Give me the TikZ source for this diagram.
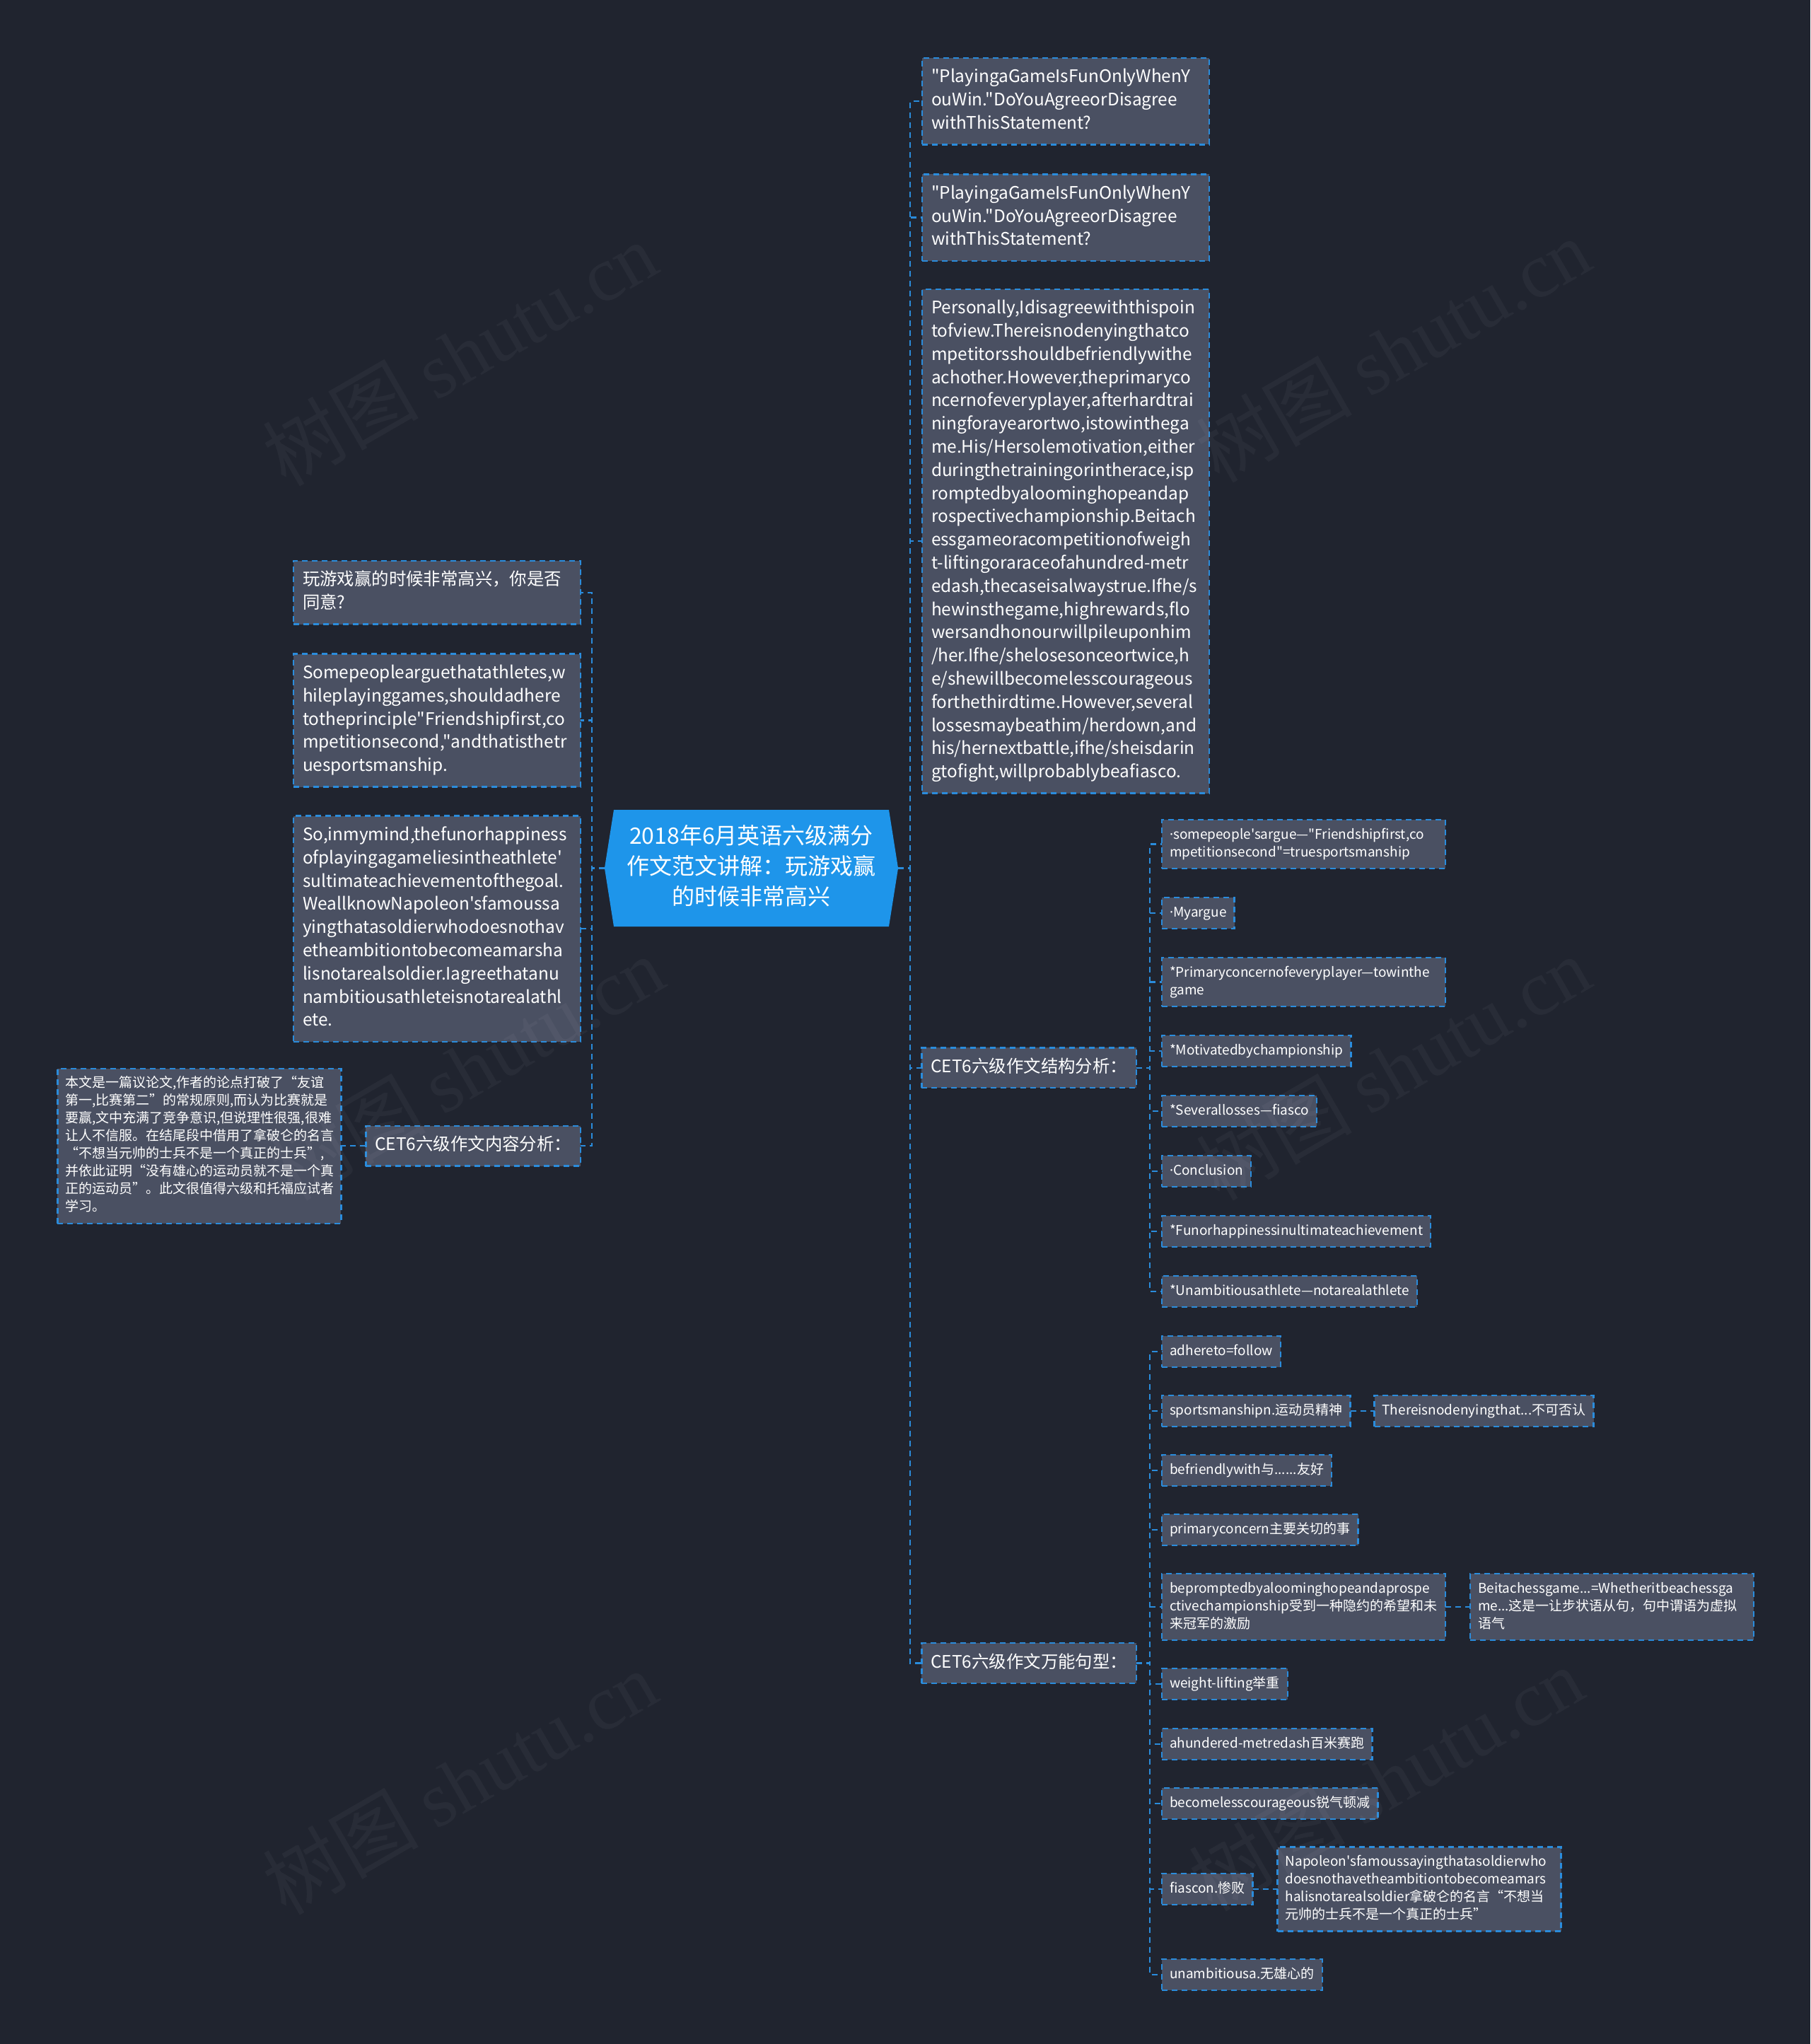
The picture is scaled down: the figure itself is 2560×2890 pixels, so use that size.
\documentclass[tikz,border=0pt]{standalone}
\usepackage{fontspec}
\setmainfont{Noto Sans CJK SC}[Ligatures=TeXOff]
\newfontfamily\wmfont{Liberation Serif}
\newfontfamily\latinfont{Noto Sans}
\newcommand\latindot{{\latinfont ·}}
\usetikzlibrary{positioning,calc,shapes.symbols}
\definecolor{bgdark}{HTML}{20242F}
\definecolor{boxfill}{HTML}{4A5062}
\definecolor{lineblue}{HTML}{2A8CDC}
\definecolor{rootblue}{HTML}{1E95EA}
\hyphenpenalty=10000
\exhyphenpenalty=10000

\begin{document}
\begin{tikzpicture}[x=0.5pt,y=-0.5pt]
  \tikzstyle{link}=[draw=lineblue,line width=1.2pt,dash pattern=on 4pt off 3pt]
  \tikzstyle{box}=[draw=lineblue,line width=1.2pt,dash pattern=on 4pt off 3pt,fill=boxfill,text=white,align=left,outer sep=0pt,execute at begin node=\strut,execute at end node=\strut]
  \tikzstyle{bigbox}=[box,font=\fontsize{12.2}{16.4}\selectfont,inner xsep=6.5pt,inner ysep=6pt]
  \tikzstyle{textbox}=[bigbox,text width=190pt]
  \tikzstyle{leaf}=[box,font=\fontsize{9.5}{12.5}\selectfont,inner xsep=5.5pt,inner ysep=4.75pt]
  \tikzstyle{wideleaf}=[leaf,text width=189.5pt]
  \tikzstyle{hexa}=[shape=signal,signal to=west and east,signal pointer angle=162,fill=rootblue,text=white,align=center,font=\fontsize{16}{21.5}\selectfont,text width=194.5pt,inner xsep=0pt,inner ysep=9pt,minimum width=207.5pt,outer sep=0pt,execute at begin node=\strut,execute at end node=\strut]
  \tikzstyle{wm}=[text=white,opacity=0.04,rotate=30,font=\fontsize{55}{60}\selectfont]
  \useasboundingbox (0,0) rectangle (2560,2890);
  \fill[bgdark] (0,0) rectangle (2560,2890);
  % centre
  \node[hexa] (title) at (1062.5,1227.5) {2018年6月英语六级满分\\作文范文讲解：玩游戏赢\\的时候非常高兴};
  % right branch
  \node[textbox,anchor=north west] (qa) at (1304,82) {"PlayingaGameIsFunOnlyWhenY\\ouWin."DoYouAgreeorDisagree\\withThisStatement?};
  \node[textbox,below=21pt of qa.south west,anchor=north west] (qb) {"PlayingaGameIsFunOnlyWhenY\\ouWin."DoYouAgreeorDisagree\\withThisStatement?};
  \node[textbox,below=20pt of qb.south west,anchor=north west] (pview) {Personally,Idisagreewiththispoin\\tofview.Thereisnodenyingthatco\\mpetitorsshouldbefriendlywithe\\achother.However,theprimaryco\\ncernofeveryplayer,afterhardtrai\\ningforayearortwo,istowinthega\\me.His/Hersolemotivation,either\\duringthetrainingorintherace,isp\\romptedbyaloominghopeandap\\rospectivechampionship.Beitach\\essgameoracompetitionofweigh\\t-liftingoraraceofahundred-metr\\edash,thecaseisalwaystrue.Ifhe/s\\hewinsthegame,highrewards,flo\\wersandhonourwillpileuponhim\\/her.Ifhe/shelosesonceortwice,h\\e/shewillbecomelesscourageous\\forthethirdtime.However,several\\lossesmaybeathim/herdown,and\\his/hernextbattle,ifhe/sheisdarin\\gtofight,willprobablybeafiasco.};
  % structure
  \node[wideleaf,anchor=north west] (s1) at (1643,1159) {\latindot somepeople'sargue—"Friendshipfirst,co\\mpetitionsecond"=truesportsmanship};
  \node[leaf,below=20.5pt of s1.south west,anchor=north west] (s2) {\latindot Myargue};
  \node[wideleaf,below=20.5pt of s2.south west,anchor=north west] (s3) {*Primaryconcernofeveryplayer—towinthe\\game};
  \node[leaf,below=20.5pt of s3.south west,anchor=north west] (s4) {*Motivatedbychampionship};
  \node[leaf,below=20.5pt of s4.south west,anchor=north west] (s5) {*Severallosses—fiasco};
  \node[leaf,below=20.5pt of s5.south west,anchor=north west] (s6) {\latindot Conclusion};
  \node[leaf,below=20.5pt of s6.south west,anchor=north west] (s7) {*Funorhappinessinultimateachievement};
  \node[leaf,below=20.5pt of s7.south west,anchor=north west] (s8) {*Unambitiousathlete—notarealathlete};
  \coordinate (smid) at ($(s1.west)!.5!(s8.west)$);
  \node[bigbox,left=18pt of smid] (struct) {CET6六级作文结构分析：};
  % phrases
  \node[leaf,below=20.5pt of s8.south west,anchor=north west] (w1) {adhereto=follow};
  \node[leaf,below=20pt of w1.south west,anchor=north west] (w2) {sportsmanshipn.运动员精神};
  \node[leaf,right=17pt of w2] (w2x) {Thereisnodenyingthat...不可否认};
  \node[leaf,below=20pt of w2.south west,anchor=north west] (w3) {befriendlywith与......友好};
  \node[leaf,below=20pt of w3.south west,anchor=north west] (w4) {primaryconcern主要关切的事};
  \node[wideleaf,below=20pt of w4.south west,anchor=north west] (w5) {bepromptedbyaloominghopeandaprospe\\ctivechampionship受到一种隐约的希望和未\\来冠军的激励};
  \node[wideleaf,right=17.5pt of w5] (w5x) {Beitachessgame...=Whetheritbeachessga\\me...这是一让步状语从句，句中谓语为虚拟\\语气};
  \node[leaf,below=20pt of w5.south west,anchor=north west] (w6) {weight-lifting举重};
  \node[leaf,below=20.5pt of w6.south west,anchor=north west] (w7) {ahundered-metredash百米赛跑};
  \node[leaf,below=20pt of w7.south west,anchor=north west] (w8) {becomelesscourageous锐气顿减};
  \node[leaf,below=38.5pt of w8.south west,anchor=north west] (w9) {fiascon.惨败};
  \node[wideleaf,right=17.5pt of w9] (w9x) {Napoleon'sfamoussayingthatasoldierwho\\doesnothavetheambitiontobecomeamars\\halisnotarealsoldier拿破仑的名言“不想当\\元帅的士兵不是一个真正的士兵”};
  \node[leaf,below=38.5pt of w9.south west,anchor=north west] (w10) {unambitiousa.无雄心的};
  \coordinate (wmid) at ($(w1.west)!.5!(w10.west)$);
  \node[bigbox,left=18pt of wmid] (phrase) {CET6六级作文万能句型：};
  % left branch
  \node[textbox,anchor=north east] (qcn) at (821,793) {玩游戏赢的时候非常高兴，你是否\\同意?};
  \node[textbox,below=21pt of qcn.south east,anchor=north east] (argue) {Somepeoplearguethatathletes,w\\hileplayinggames,shouldadhere\\totheprinciple"Friendshipfirst,co\\mpetitionsecond,"andthatisthetr\\uesportsmanship.};
  \node[textbox,below=20.5pt of argue.south east,anchor=north east] (mind) {So,inmymind,thefunorhappiness\\ofplayingagameliesintheathlete'\\sultimateachievementofthegoal.\\WeallknowNapoleon'sfamoussa\\yingthatasoldierwhodoesnothav\\etheambitiontobecomeamarsha\\lisnotarealsoldier.Iagreethatanu\\nambitiousathleteisnotarealathl\\ete.};
  \node[bigbox,below=59.5pt of mind.south east,anchor=north east] (content) {CET6六级作文内容分析：};
  \node[wideleaf,left=17.5pt of content] (review) {本文是一篇议论文,作者的论点打破了“友谊\\第一,比赛第二”的常规原则,而认为比赛就是\\要赢,文中充满了竞争意识,但说理性很强,很难\\让人不信服。在结尾段中借用了拿破仑的名言\\“不想当元帅的士兵不是一个真正的士兵”,\\并依此证明“没有雄心的运动员就不是一个真\\正的运动员”。此文很值得六级和托福应试者\\学习。};
  % links
  \draw[link] (title.east) -- ++(8.5pt,0) |- (qa.west);
  \draw[link] (title.east) -- ++(8.5pt,0) |- (qb.west);
  \draw[link] (title.east) -- ++(8.5pt,0) |- (pview.west);
  \draw[link] (title.east) -- ++(8.5pt,0) |- (struct.west);
  \draw[link] (title.east) -- ++(8.5pt,0) |- (phrase.west);
  \draw[link] (title.west) -- ++(-9pt,0) |- (qcn.east);
  \draw[link] (title.west) -- ++(-9pt,0) |- (argue.east);
  \draw[link] (title.west) -- ++(-9pt,0) |- (mind.east);
  \draw[link] (title.west) -- ++(-9pt,0) |- (content.east);
  \draw[link] (content.west) -- (review.east);
  \draw[link] (struct.east) -- ++(9.5pt,0) |- (s1.west);
  \draw[link] (struct.east) -- ++(9.5pt,0) |- (s2.west);
  \draw[link] (struct.east) -- ++(9.5pt,0) |- (s3.west);
  \draw[link] (struct.east) -- ++(9.5pt,0) |- (s4.west);
  \draw[link] (struct.east) -- ++(9.5pt,0) |- (s5.west);
  \draw[link] (struct.east) -- ++(9.5pt,0) |- (s6.west);
  \draw[link] (struct.east) -- ++(9.5pt,0) |- (s7.west);
  \draw[link] (struct.east) -- ++(9.5pt,0) |- (s8.west);
  \draw[link] (phrase.east) -- ++(9.5pt,0) |- (w1.west);
  \draw[link] (phrase.east) -- ++(9.5pt,0) |- (w2.west);
  \draw[link] (phrase.east) -- ++(9.5pt,0) |- (w3.west);
  \draw[link] (phrase.east) -- ++(9.5pt,0) |- (w4.west);
  \draw[link] (phrase.east) -- ++(9.5pt,0) |- (w5.west);
  \draw[link] (phrase.east) -- ++(9.5pt,0) |- (w6.west);
  \draw[link] (phrase.east) -- ++(9.5pt,0) |- (w7.west);
  \draw[link] (phrase.east) -- ++(9.5pt,0) |- (w8.west);
  \draw[link] (phrase.east) -- ++(9.5pt,0) |- (w9.west);
  \draw[link] (phrase.east) -- ++(9.5pt,0) |- (w10.west);
  \draw[link] (w2.east) -- (w2x.west);
  \draw[link] (w5.east) -- (w5x.west);
  \draw[link] (w9.east) -- (w9x.west);
  % watermark
  \node[wm] (wm1) at (650,500) {树图 {\wmfont shutu.cn}};
  \node[wm] (wm2) at (1970,495) {树图 {\wmfont shutu.cn}};
  \node[wm] (wm3) at (660,1510) {树图 {\wmfont shutu.cn}};
  \node[wm] (wm4) at (1970,1510) {树图 {\wmfont shutu.cn}};
  \node[wm] (wm5) at (650,2520) {树图 {\wmfont shutu.cn}};
  \node[wm] (wm6) at (1960,2515) {树图 {\wmfont shutu.cn}};
\end{tikzpicture}
\end{document}
